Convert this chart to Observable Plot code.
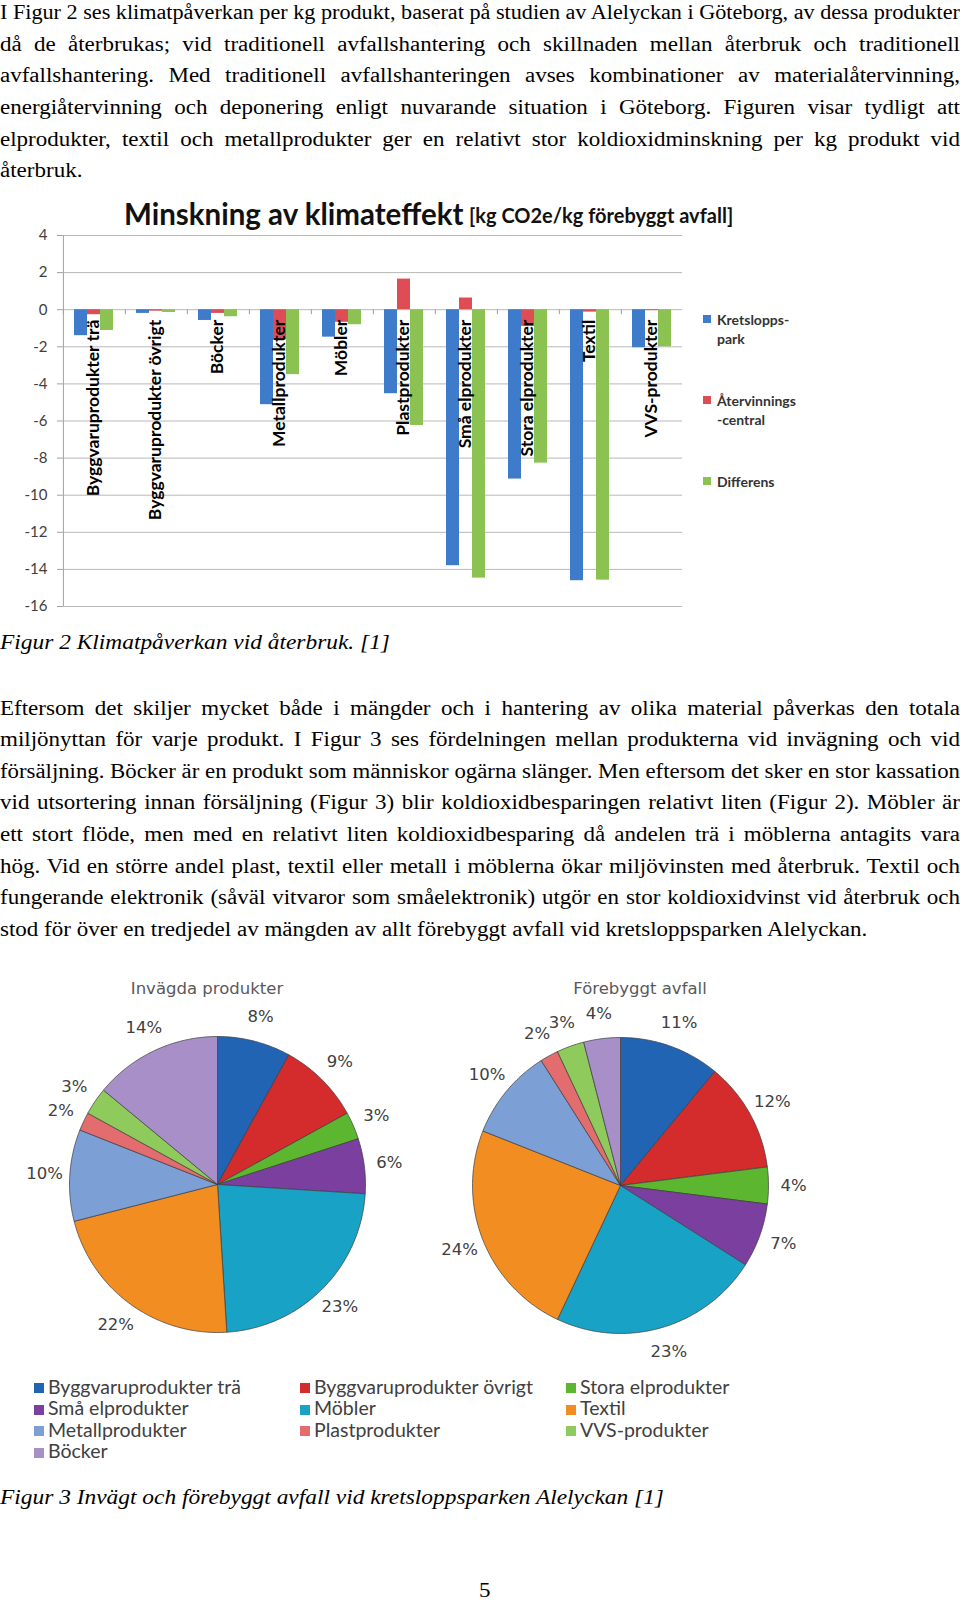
<!DOCTYPE html>
<html><head><meta charset="utf-8">
<script src="https://cdn.jsdelivr.net/npm/d3@7"></script>
<script src="https://cdn.jsdelivr.net/npm/@observablehq/plot@0.6"></script>
<style>
html,body{margin:0;padding:0;background:#fff;}
#page{position:relative;width:960px;height:1600px;overflow:hidden;background:#fff;}
.t{position:absolute;white-space:nowrap;line-height:1;}
.t span{display:inline-block;}
.sq{position:absolute;}
.chart{position:absolute;}
</style></head>
<body><div id="page"></div>
<script>
// ---------- DATA ----------
const para1Lines = [
  "I Figur 2 ses klimatpåverkan per kg produkt, baserat på studien av Alelyckan i Göteborg, av dessa produkter",
  "då de återbrukas; vid traditionell avfallshantering och skillnaden mellan återbruk och traditionell",
  "avfallshantering. Med traditionell avfallshanteringen avses kombinationer av materialåtervinning,",
  "energiåtervinning och deponering enligt nuvarande situation i Göteborg. Figuren visar tydligt att",
  "elprodukter, textil och metallprodukter ger en relativt stor koldioxidminskning per kg produkt vid",
  "återbruk."
];
const caption2 = "Figur 2 Klimatpåverkan vid återbruk. [1]";
const para2Lines = [
  "Eftersom det skiljer mycket både i mängder och i hantering av olika material påverkas den totala",
  "miljönyttan för varje produkt. I Figur 3 ses fördelningen mellan produkterna vid invägning och vid",
  "försäljning. Böcker är en produkt som människor ogärna slänger. Men eftersom det sker en stor kassation",
  "vid utsortering innan försäljning (Figur 3) blir koldioxidbesparingen relativt liten (Figur 2). Möbler är",
  "ett stort flöde, men med en relativt liten koldioxidbesparing då andelen trä i möblerna antagits vara",
  "hög. Vid en större andel plast, textil eller metall i möblerna ökar miljövinsten med återbruk. Textil och",
  "fungerande elektronik (såväl vitvaror som småelektronik) utgör en stor koldioxidvinst vid återbruk och",
  "stod för över en tredjedel av mängden av allt förebyggt avfall vid kretsloppsparken Alelyckan."
];
const caption3 = "Figur 3 Invägt och förebyggt avfall vid kretsloppsparken Alelyckan [1]";
const pageNumber = "5";

const barTitle = "Minskning av klimateffekt";
const barUnit = "[kg CO2e/kg förebyggt avfall]";
const categories = ["Byggvaruprodukter trä","Byggvaruprodukter övrigt","Böcker","Metallprodukter","Möbler",
  "Plastprodukter","Små elprodukter","Stora elprodukter","Textil","VVS-produkter"];
const seriesNames = ["Kretslopps-park","Återvinnings-central","Differens"];
const seriesLegend = [["Kretslopps-","park"],["Återvinnings","-central"],["Differens"]];
const kretsloppspark = [-1.40,-0.20,-0.58,-5.12,-1.48,-4.53,-13.80,-9.13,-14.61,-2.05];
const atervinningscentral = [-0.27,-0.08,-0.20,-1.62,-0.68,1.65,0.63,-0.90,-0.13,-0.05];
const differens = [-1.12,-0.15,-0.38,-3.50,-0.81,-6.24,-14.47,-8.27,-14.58,-2.00];
const barColors = ["#3E7CCB","#DE4D55","#8CC252"];
const yTicks = [4,2,0,-2,-4,-6,-8,-10,-12,-14,-16];
const yTickLabels = ["4","2","0","-2","-4","-6","-8","-10","-12","-14","-16"];

const pieCategories = ["Byggvaruprodukter trä","Byggvaruprodukter övrigt","Stora elprodukter","Små elprodukter",
  "Möbler","Textil","Metallprodukter","Plastprodukter","VVS-produkter","Böcker"];
const pieColors = ["#2264B4","#D42B2D","#5DB62F","#7B3F9F","#18A2C6","#F28D22","#7C9FD6","#E26C6E","#8FCA5D","#A88FC8"];
const pieTitles = ["Invägda produkter","Förebyggt avfall"];
const invagda = [8,9,3,6,23,22,10,2,3,14];
const forebyggt = [11,12,4,7,23,24,10,2,3,4];

// ---------- HELPERS ----------
const page = document.getElementById("page");
const ASC = {"Lato":0.887,"DejaVu Sans":0.846,"Liberation Serif":0.8375};
function put(text, o){
  const fam = o.family || "Liberation Serif";
  const div = document.createElement("div");
  div.className = "t";
  div.style.fontFamily = `"${fam}"`;
  div.style.fontSize = o.size + "px";
  div.style.fontWeight = o.weight || "normal";
  div.style.fontStyle = o.style || "normal";
  div.style.color = o.color || "#000";
  div.style.top = (o.baseline - ASC[fam]*o.size) + "px";
  div.style.left = o.x + "px";
  const span = document.createElement("span");
  span.textContent = text;
  div.appendChild(span);
  page.appendChild(div);
  const w = span.getBoundingClientRect().width;
  let s = o.stretch || 1;
  if (o.width) {
    if (w * s > o.width) s = o.width / w;
    else if (o.justify) {
      const n = (text.match(/ /g) || []).length;
      if (n) span.style.wordSpacing = ((o.width / s - w) / n) + "px";
    }
  }
  if (s !== 1) { span.style.transformOrigin = "0 0"; span.style.transform = `scaleX(${s})`; }
  if (o.anchor === "middle") div.style.left = (o.x - w * s / 2) + "px";
  return div;
}
function square(x, y, s, color){
  const d = document.createElement("div");
  d.className = "sq";
  Object.assign(d.style, {left:x+"px", top:y+"px", width:s+"px", height:s+"px", background:color});
  page.appendChild(d);
}

// ---------- BODY TEXT ----------
const LH = 31.6, ST = 1.15;
para1Lines.forEach((l,i)=> put(l, {x:0, baseline:19 + i*LH, size:20, width:960, stretch:ST, justify: i < para1Lines.length-1}));
put(caption2, {x:0, baseline:649, size:20, style:"italic", stretch:1.17});
para2Lines.forEach((l,i)=> put(l, {x:0, baseline:714.3 + i*LH, size:20, width:960, stretch:ST, justify: i < para2Lines.length-1}));
put(caption3, {x:0, baseline:1504, size:20, style:"italic", stretch:1.17});
put(pageNumber, {x:485, baseline:1597, size:20, anchor:"middle", stretch:ST});

// ---------- BAR CHART ----------
put(barTitle, {x:124, baseline:225, size:29.5, family:"Lato", weight:"bold", color:"#111"});
put(barUnit, {x:469, baseline:223, size:20, family:"Lato", weight:"bold", color:"#111"});

const rows = [];
const seriesValues = [kretsloppspark, atervinningscentral, differens];
categories.forEach((c,i)=> seriesNames.forEach((s,k)=> rows.push({cat:c, series:s, value:seriesValues[k][i]})));

const BW = 700, BH = 430, mL = 61, mR = 18, mT = 45, mB = 14;
const pOuter = 0.81;
const facetW = (BW - mL - mR) / categories.length;
const step = facetW / (3 + 2*pOuter);
const edgeDx = -(pOuter*step + step/2);

const bar = Plot.plot({
  width: BW, height: BH, marginLeft: mL, marginRight: mR, marginTop: mT, marginBottom: mB,
  style: {fontFamily: "Lato", fontSize: "15px", color: "#404040", background: "transparent", overflow: "visible"},
  fx: {domain: categories, padding: 0, axis: null},
  x: {domain: seriesNames, paddingInner: 0, paddingOuter: pOuter, axis: null},
  y: {domain: [-16, 4], axis: null},
  color: {domain: seriesNames, range: barColors},
  marks: [
    Plot.gridY(yTicks, {stroke: "#b8b8b8", strokeOpacity: 1, strokeWidth: 1}),
    Plot.ruleX(categories, {fx: d => d, x: () => seriesNames[0], y1: 0, y2: 0, insetBottom: -5, dx: edgeDx, stroke: "#a0a0a0"}),
    Plot.ruleX([categories[0]], {fx: d => d, x: () => seriesNames[0], y1: -16, y2: 4, dx: edgeDx, stroke: "#a0a0a0"}),
    Plot.barY(rows, {fx: "cat", x: "series", y: "value", fill: "series"}),
    Plot.axisY(yTicks, {label: null, tickSize: 5, tickPadding: 10, stroke: "#a0a0a0", fill: "#404040", fontSize: 15,
      tickFormat: d => yTickLabels[yTicks.indexOf(d)]}),
    Plot.text(categories, {fx: d => d, y: 0, text: d => d, rotate: -90, textAnchor: "end", dy: 10,
      fontWeight: "bold", fontSize: 17.5, fill: "#000"})
  ]
});
bar.classList.add("chart");
bar.style.left = "0px"; bar.style.top = "190px";
page.appendChild(bar);

// bar legend
const legBase = [[325,344],[406,425],[487]];
seriesLegend.forEach((lines,k)=>{
  square(703, legBase[k][0]-10, 8, barColors[k]);
  lines.forEach((l,j)=> put(l, {x:717, baseline:legBase[k][j], size:14, family:"Lato", weight:"bold", color:"#333"}));
});

// ---------- PIES ----------
function makePie(values, cx, cy){
  const S = 420, R = 148, dom = S/2/R, labelR = 1.17;
  const arcs = d3.pie().sort(null).value(d => d)(values);
  const pts = [];
  arcs.forEach((a,i)=>{
    const cat = pieCategories[i];
    pts.push({cat, x:0, y:0});
    const n = Math.max(2, Math.ceil((a.endAngle - a.startAngle) / (Math.PI/180)));
    for (let j = 0; j <= n; j++) {
      const t = a.startAngle + (a.endAngle - a.startAngle) * j / n;
      pts.push({cat, x: Math.sin(t), y: Math.cos(t)});
    }
    pts.push({cat, x:0, y:0});
  });
  const labels = arcs.map((a,i)=>{
    const m = (a.startAngle + a.endAngle)/2;
    return {x: Math.sin(m)*labelR, y: Math.cos(m)*labelR, text: values[i] + "%"};
  });
  const p = Plot.plot({
    width: S, height: S, margin: 0,
    style: {background: "transparent", overflow: "visible"},
    x: {domain: [-dom, dom], axis: null},
    y: {domain: [-dom, dom], axis: null},
    color: {domain: pieCategories, range: pieColors},
    marks: [
      Plot.line(pts, {x: "x", y: "y", z: "cat", fill: "cat", stroke: "#3c3c3c", strokeWidth: 0.7, strokeLinejoin: "round", curve: "linear"}),
      Plot.text(labels, {x: "x", y: "y", text: "text", fontSize: 16.5, fontFamily: "DejaVu Sans", fill: "#404040"})
    ]
  });
  p.classList.add("chart");
  p.style.left = (cx - S/2) + "px"; p.style.top = (cy - S/2) + "px";
  page.appendChild(p);
}
makePie(invagda, 216.7, 1184);
makePie(forebyggt, 620, 1185);
put(pieTitles[0], {x:207, baseline:995, size:16.5, family:"DejaVu Sans", color:"#595959", anchor:"middle"});
put(pieTitles[1], {x:640, baseline:995, size:16.5, family:"DejaVu Sans", color:"#595959", anchor:"middle"});

// pie legend (3 columns, row-major)
const colX = [34, 300, 566];
const rowBase = [1394, 1415.5, 1437, 1458.5];
pieCategories.forEach((c,i)=>{
  const r = Math.floor(i/3), col = i % 3;
  square(colX[col], rowBase[r]-11, 10, pieColors[i]);
  put(c, {x: colX[col] + 14, baseline: rowBase[r], size: 19.5, family: "Lato", color: "#404040"});
});
</script></body></html>
